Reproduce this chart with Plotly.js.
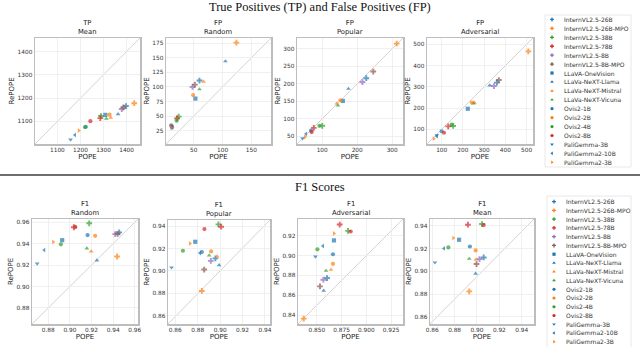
<!DOCTYPE html>
<html>
<head>
<meta charset="utf-8">
<script src="https://cdn.plot.ly/plotly-3.0.1.min.js"></script>
<style>
  html, body { margin: 0; padding: 0; background: #fff; }
  #chart { width: 640px; height: 347px; }
</style>
</head>
<body>
<div id="chart"></div>
<script>
// models, in legend order
let models = [
  'InternVL2.5-26B', 'InternVL2.5-26B-MPO', 'InternVL2.5-38B', 'InternVL2.5-78B',
  'InternVL2.5-8B', 'InternVL2.5-8B-MPO', 'LLaVA-OneVision', 'LLaVa-NeXT-Llama',
  'LLaVa-NeXT-Mistral', 'LLaVa-NeXT-Vicuna', 'Ovis2-1B', 'Ovis2-2B', 'Ovis2-4B',
  'Ovis2-8B', 'PaliGemma-3B', 'PaliGemma2-10B', 'PaliGemma2-3B'
]
let colors = [
  '#1f77b4', '#ff7f0e', '#2ca02c', '#d62728', '#9467bd', '#8c564b', '#1f77b4', '#1f77b4',
  '#ff7f0e', '#2ca02c', '#1f77b4', '#ff7f0e', '#2ca02c', '#d62728', '#1f77b4', '#1f77b4', '#ff7f0e'
]
let symbols = [
  'cross', 'cross', 'cross', 'cross', 'cross', 'cross', 'square', 'triangle-up',
  'triangle-up', 'triangle-up', 'circle', 'circle', 'circle', 'circle',
  'triangle-down', 'triangle-left', 'triangle-right'
]

// TP / FP counts (POPE vs RePOPE)
let tpMeanPope   = [1397, 1433, 1289, 1286, 1379, 1386, 1308, 1363, 1331, 1312, 1223, 1326, 1220, 1243, 1157, 1176, 1193]
let tpMeanRepope = [1166, 1178, 1123, 1114, 1153, 1160, 1128, 1131, 1116, 1112, 1077, 1129, 1075, 1101, 1022, 1042, 1061]
let fpRandomPope   = [60, 124, 24, 21, 48, 52, 53, 105, 67, 60, 11, 49, 20.5, 12, 12.4, 13, 11]
let fpRandomRepope = [111, 176, 49, 46, 100, 104, 80, 144, 109, 96, 34, 86, 42, 32, 29, 31, 30]
let fpPopularPope   = [226, 313, 100, 76, 215, 246, 159, 175, 142, 145, 68, 152, 92, 70, 44, 54, 51]
let fpPopularRepope = [216, 315, 80, 74, 205, 235, 151, 186, 144, 138, 66, 153, 80, 62, 44, 57, 48]
let fpAdvPope   = [360, 508, 154, 131, 346, 369, 223, 326, 254, 250, 100, 242, 147, 111, 77, 78, 63]
let fpAdvRepope = [320, 467, 116, 114, 304, 332, 197, 307, 226, 222, 91, 226, 122, 84, 72, 68, 56]

// F1 scores
let f1RandomPope   = [0.9456, 0.9437, 0.9179, 0.9037, 0.9419, 0.9441, 0.8929, 0.925, 0.9197, 0.9157, 0.9164, 0.9234, 0.8917, 0.905, 0.8698, 0.8763, 0.8846]
let f1RandomRepope = [0.9505, 0.928, 0.959, 0.9553, 0.9489, 0.9492, 0.9432, 0.9243, 0.9328, 0.9356, 0.948, 0.9473, 0.9394, 0.9556, 0.9214, 0.934, 0.9416]
let f1PopularPope   = [0.8958, 0.8837, 0.8985, 0.9009, 0.8917, 0.8858, 0.8778, 0.8991, 0.8973, 0.8902, 0.8837, 0.892, 0.8668, 0.886, 0.8567, 0.882, 0.8731]
let f1PopularRepope = [0.9112, 0.8822, 0.9415, 0.9394, 0.909, 0.9013, 0.926, 0.9052, 0.913, 0.9138, 0.9168, 0.9174, 0.918, 0.9373, 0.9031, 0.916, 0.9245]
let f1AdvPope   = [0.8603, 0.8368, 0.8815, 0.8731, 0.8566, 0.8532, 0.8673, 0.8569, 0.8643, 0.8593, 0.8663, 0.8663, 0.8506, 0.8842, 0.8486, 0.8562, 0.8673]
let f1AdvRepope = [0.8774, 0.8364, 0.925, 0.9314, 0.8757, 0.869, 0.9154, 0.8647, 0.8857, 0.8847, 0.9014, 0.8917, 0.9064, 0.9244, 0.899, 0.9097, 0.9224]
let f1MeanPope   = [0.906, 0.8931, 0.9045, 0.8919, 0.9023, 0.8996, 0.884, 0.8988, 0.8991, 0.8931, 0.8937, 0.8988, 0.8744, 0.906, 0.8624, 0.8705, 0.8789]
let f1MeanRepope = [0.9122, 0.8824, 0.9415, 0.9409, 0.9108, 0.9064, 0.9277, 0.8979, 0.9102, 0.911, 0.9218, 0.9183, 0.921, 0.9406, 0.9078, 0.9201, 0.9292]

let W = 640, H = 347
let px = v => v / W
let py = v => 1 - v / H

// panel boxes in pixels: [left, right, top, bottom]
let panels = [
  {t1: 'TP', t2: 'Mean',        x: tpMeanPope,     y: tpMeanRepope,     box: [35, 140, 38, 144],  xr: [1003, 1458], yr: [1003, 1458], xd: 100, yd: 100, fmt: ''},
  {t1: 'FP', t2: 'Random',      x: fpRandomPope,   y: fpRandomRepope,   box: [166, 271, 38, 144], xr: [2, 184], yr: [2, 184], xd: 50, yd: 25, fmt: ''},
  {t1: 'FP', t2: 'Popular',     x: fpPopularPope,  y: fpPopularRepope,  box: [297, 403, 38, 144], xr: [28, 331], yr: [28, 331], xd: 100, yd: 50, fmt: ''},
  {t1: 'FP', t2: 'Adversarial', x: fpAdvPope,      y: fpAdvRepope,      box: [427, 533, 38, 144], xr: [31, 530], yr: [31, 530], xd: 100, yd: 100, fmt: ''},
  {t1: 'F1', t2: 'Random',      x: f1RandomPope,   y: f1RandomRepope,   box: [32, 138, 219, 324], xr: [0.865, 0.963], yr: [0.865, 0.963], xd: 0.02, yd: 0.02, fmt: '.2f'},
  {t1: 'F1', t2: 'Popular',     x: f1PopularPope,  y: f1PopularRepope,  box: [168, 270, 220, 324], xr: [0.8535, 0.9445], yr: [0.8528, 0.9454], xd: 0.02, yd: 0.02, fmt: '.2f'},
  {t1: 'F1', t2: 'Adversarial', x: f1AdvPope,      y: f1AdvRepope,      box: [298, 403, 219, 324], xr: [0.831, 0.937], yr: [0.831, 0.937], xd: 0.025, yd: 0.02, fmt: '.3f', yfmt: '.2f'},
  {t1: 'F1', t2: 'Mean',        x: f1MeanPope,     y: f1MeanRepope,     box: [430, 534, 219, 324], xr: [0.858, 0.951], yr: [0.8538, 0.9459], xd: 0.02, yd: 0.02, fmt: '.2f'}
]

let markerSizes = symbols.map(s => s === 'cross' ? 4.8 : 4.2)

let data = []
let layout = {
  width: W, height: H,
  margin: {l: 0, r: 0, t: 0, b: 0},
  paper_bgcolor: '#fff', plot_bgcolor: '#fff',
  showlegend: false,
  font: {family: 'DejaVu Sans', size: 6, color: '#333'},
  annotations: [], shapes: []
}

panels.forEach((p, i) => {
  let n = i + 1
  let xa = 'xaxis' + n, ya = 'yaxis' + n
  let common = {
    showgrid: true, gridcolor: '#ececec', gridwidth: 0.8,
    showline: true, mirror: true, linecolor: '#bdbdbd', linewidth: 1.5,
    zeroline: false, ticks: '', tickfont: {size: 5.8, color: '#333'},
    fixedrange: true
  }
  layout[xa] = Object.assign({}, common, {
    domain: [px(p.box[0]), px(p.box[1])], anchor: 'y' + n,
    range: p.xr, dtick: p.xd, tick0: 0, tickformat: p.fmt,
    title: {text: 'POPE', font: {size: 7, color: '#222'}, standoff: 1}
  })
  layout[ya] = Object.assign({}, common, {
    domain: [py(p.box[3]), py(p.box[2])], anchor: 'x' + n,
    range: p.yr, dtick: p.yd, tick0: 0, tickformat: p.yfmt || p.fmt,
    title: {text: 'RePOPE', font: {size: 7, color: '#222'}, standoff: 2}
  })
  // y = x reference
  layout.shapes.push({
    type: 'line', xref: 'x' + n + ' domain', yref: 'y' + n + ' domain',
    x0: 0, y0: 0, x1: 1, y1: 1, layer: 'below',
    line: {color: '#cfcfcf', width: 0.9}
  })
  layout.annotations.push({
    xref: 'paper', yref: 'paper',
    x: px((p.box[0] + p.box[1]) / 2), y: py(p.box[2]),
    xanchor: 'center', yanchor: 'bottom', yshift: 0,
    text: p.t1 + '<br>' + p.t2, showarrow: false,
    font: {size: 6.8, color: '#222'}
  })
  data.push({
    type: 'scatter', mode: 'markers',
    x: p.x, y: p.y, text: models,
    xaxis: 'x' + n, yaxis: 'y' + n,
    cliponaxis: false,
    marker: {color: colors, symbol: symbols, size: markerSizes, line: {width: 0}},
    hoverinfo: 'text+x+y'
  })
})

// hand-drawn legends, one per row
let legends = [
  {n: 9,  box: [545, 631, 15, 167], yr: [16.53, -0.5]},
  {n: 10, box: [547, 631, 196, 347], yr: [16.6, -0.65]}
]
legends.forEach(l => {
  layout['xaxis' + l.n] = {domain: [px(l.box[0]), px(l.box[1])], range: [0, l.box[1] - l.box[0]],
    anchor: 'y' + l.n, visible: false, fixedrange: true}
  layout['yaxis' + l.n] = {domain: [py(l.box[3]), py(l.box[2])], range: l.yr,
    anchor: 'x' + l.n, visible: false, fixedrange: true}
  layout.shapes.push({
    type: 'rect', xref: 'paper', yref: 'paper', layer: 'below',
    x0: px(l.box[0]), x1: px(l.box[1]), y0: l.n === 10 ? -0.05 : py(l.box[3]), y1: py(l.box[2]),
    line: {color: '#e2e2e2', width: 0.8}, fillcolor: 'rgba(0,0,0,0)'
  })
  data.push({
    type: 'scatter', mode: 'markers',
    x: models.map(() => 7), y: models.map((m, i) => i),
    xaxis: 'x' + l.n, yaxis: 'y' + l.n, hoverinfo: 'skip',
    marker: {color: colors, symbol: symbols, size: 3.2, line: {width: 0}}
  })
  models.forEach((m, i) => {
    layout.annotations.push({
      xref: 'x' + l.n, yref: 'y' + l.n, x: 17, y: i,
      xanchor: 'left', yanchor: 'middle', text: m, showarrow: false,
      font: {size: 6, color: '#333'}
    })
  })
})

// row titles and separator
layout.annotations.push({
  xref: 'paper', yref: 'paper', x: px(320), y: py(7), xanchor: 'center', yanchor: 'middle',
  text: 'True Positives (TP) and False Positives (FP)', showarrow: false,
  font: {family: 'Liberation Serif', size: 12.5, color: '#111'}
})
layout.annotations.push({
  xref: 'paper', yref: 'paper', x: px(320), y: py(187), xanchor: 'center', yanchor: 'middle',
  text: 'F1 Scores', showarrow: false,
  font: {family: 'Liberation Serif', size: 12.5, color: '#111'}
})
layout.shapes.push({
  type: 'line', xref: 'paper', yref: 'paper', x0: 0, x1: 1, y0: py(175), y1: py(175),
  line: {color: '#6e6e6e', width: 1.8}
})

Plotly.newPlot('chart', data, layout, {displayModeBar: false, staticPlot: true})
</script>
</body>
</html>
